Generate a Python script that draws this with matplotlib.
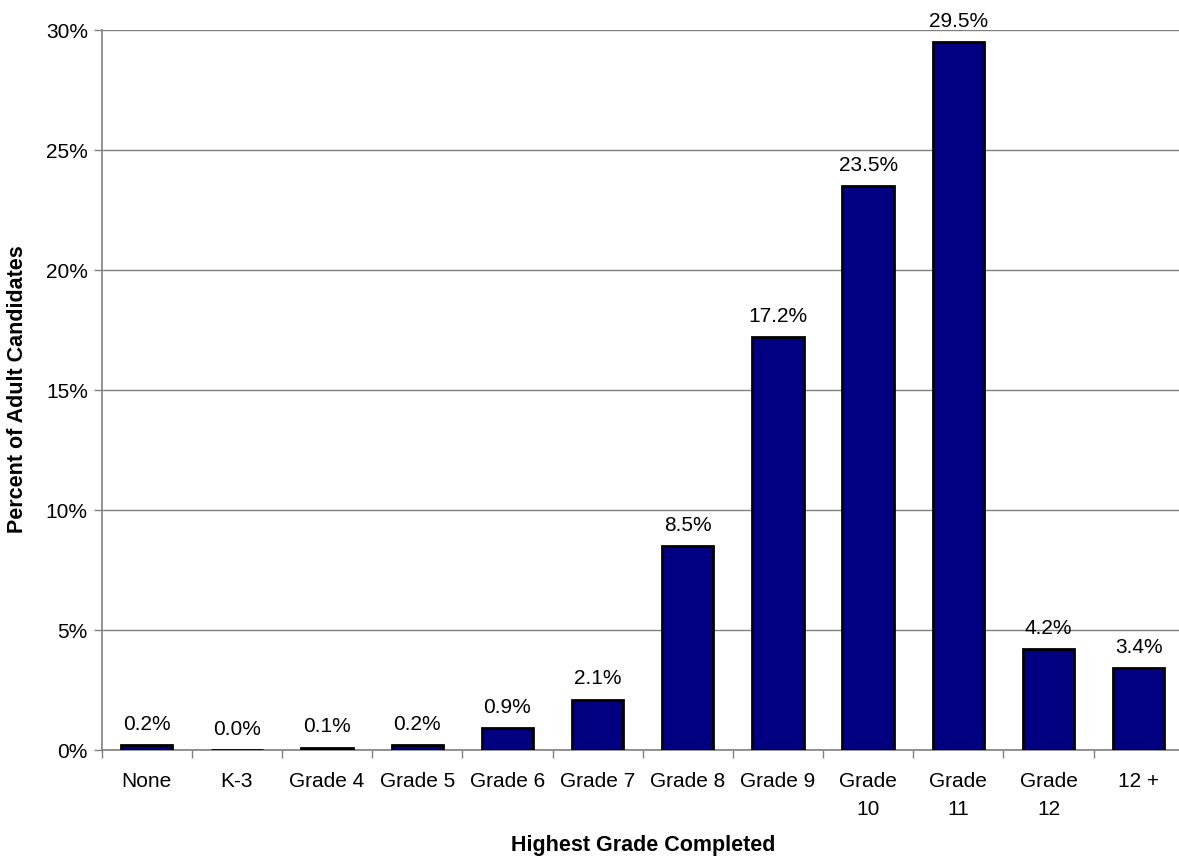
import numpy as np
import matplotlib
matplotlib.use("Agg")
import matplotlib.pyplot as plt
from matplotlib.ticker import FixedLocator

plt.rcParams['font.family'] = ['Liberation Sans', 'DejaVu Sans']

# grade categories and share of adult candidates (%)
grades = ['None', 'K-3', 'Grade 4', 'Grade 5', 'Grade 6', 'Grade 7', 'Grade 8',
          'Grade 9', 'Grade\n10', 'Grade\n11', 'Grade\n12', '12 +']
percent = [0.2, 0.0, 0.1, 0.2, 0.9, 2.1, 8.5, 17.2, 23.5, 29.5, 4.2, 3.4]
y_ticks = [0, 5, 10, 15, 20, 25, 30]

W, H = 1179, 859
fig = plt.figure(figsize=(W / 100, H / 100), dpi=100)
# plot area runs a little past the right edge of the canvas
ax = fig.add_axes([101.7 / W, 1 - 750 / H, 1082 / W, 720 / H])

x = np.arange(len(grades))
bars = ax.bar(x, percent, width=0.57, color='#000080', edgecolor='black',
              linewidth=2.0, zorder=3)

for xi, v in zip(x, percent):
    ax.annotate(f'{v:.1f}%', (xi, v), xytext=(0, 8), textcoords='offset points',
                ha='center', va='bottom', fontsize=15)

ax.set_xlim(-0.5, len(grades) - 0.5)
ax.set_ylim(0, 30)
ax.set_yticks(y_ticks)
ax.set_yticklabels([f'{t}%' for t in y_ticks], fontsize=15)
ax.yaxis.grid(True, color='#808080', linewidth=1.0, zorder=0)

# labels sit under each bar, tick marks fall between categories
ax.set_xticks(x)
ax.set_xticklabels(grades, fontsize=15, linespacing=1.6)
ax.tick_params(axis='x', which='major', length=0, pad=16)
ax.xaxis.set_minor_locator(FixedLocator(np.arange(-0.5, len(grades), 1.0)))
ax.tick_params(axis='x', which='minor', length=6, color='#808080', width=1)
ax.tick_params(axis='y', length=6, color='#808080', width=1, pad=4)

for side in ['top', 'right']:
    ax.spines[side].set_visible(False)
for side in ['left', 'bottom']:
    ax.spines[side].set_color('#808080')
    ax.spines[side].set_linewidth(1.2)

fig.text(18 / W, 1 - 389 / H, 'Percent of Adult Candidates', rotation=90,
         ha='center', va='center', fontsize=15.5, fontweight='bold')
fig.text(643 / W, 1 - 846 / H, 'Highest Grade Completed',
         ha='center', va='center', fontsize=15.5, fontweight='bold')

fig.savefig('out.png', dpi=100)
